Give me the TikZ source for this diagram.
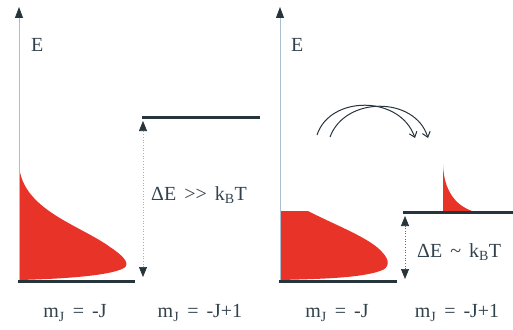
\documentclass[tikz,border=0pt]{standalone}
\usepackage{fontspec}
\setmainfont{Liberation Serif}
\definecolor{LevelDark}{RGB}{38,52,60}
\definecolor{PopRed}{RGB}{232,52,40}
\definecolor{AxisBlue}{RGB}{170,190,205}
\definecolor{TextGray}{RGB}{50,66,76}
\usetikzlibrary{arrows.meta, positioning, calc}
\newcommand{\lblfont}{\fontsize{20}{24}\selectfont\spaceskip=0.4em plus 0.1em\relax}

\tikzset{
  level/.style={draw=LevelDark, line width=3pt},
  energyaxis/.style={draw=AxisBlue, line width=0.8pt,
                     -{Triangle[length=11pt, width=8pt, color=LevelDark]}},
  gap/.style={dotted, line width=0.7pt,
              {Triangle[length=10pt, width=8pt, color=LevelDark]}-{Triangle[length=10pt, width=8pt, color=LevelDark]}},
  hop/.style={draw=LevelDark, line width=1pt, -{Straight Barb[length=5pt, width=8pt]}},
  lbl/.style={text=TextGray, inner sep=0pt, font=\lblfont},
  pop/.style={fill=PopRed, draw=none}
}

\begin{document}
\begin{tikzpicture}[x=1pt, y=-1pt]
  \useasboundingbox (0,0) rectangle (513,329);

  % left panel: large splitting
  \coordinate (axisL0) at (19,283);
  \coordinate (axisL1) at (19,7);
  \fill[pop] (19,165) .. controls (22,210) and (80,225) .. (110,247)
             .. controls (125,257) and (130,264) .. (124,268)
             .. controls (110,276) and (60,279) .. (19,280) -- cycle;
  \draw[energyaxis] (axisL0) -- (axisL1);
  \coordinate (lowL0) at (18,281);   \coordinate (lowL1) at (135,281);
  \coordinate (upL0)  at (142,117);  \coordinate (upL1)  at (260,117);
  \draw[level] (lowL0) -- (lowL1);
  \draw[level] (upL0) -- (upL1);
  \coordinate (gapL0) at (143,121);  \coordinate (gapL1) at (143,277);
  \draw[gap, draw=PopRed!55] (gapL1) -- (gapL0);
  \node[lbl, anchor=west] (eL) at (31,45) {E};
  \node[lbl, anchor=west] (dEL) at (151,195) {ΔE >{}> k\textsubscript{B}T};
  \node[lbl] (mL0) at (75,313) {m\textsubscript{J} = -J};
  \node[lbl] (mL1) at (200,313) {m\textsubscript{J} = -J+1};

  % right panel: small splitting
  \coordinate (axisR0) at (280,283);
  \coordinate (axisR1) at (280,7);
  \fill[pop] (280,211) -- (308,211) .. controls (335,225) and (370,238) .. (382,252)
             .. controls (390,260) and (390,268) .. (380,271)
             .. controls (360,278) and (320,279) .. (280,280) -- cycle;
  \fill[pop] (443,165) .. controls (444,190) and (455,205) .. (472,211)
             -- (443,211) -- cycle;
  \draw[energyaxis] (axisR0) -- (axisR1);
  \coordinate (lowR0) at (279,281);  \coordinate (lowR1) at (397,281);
  \coordinate (upR0)  at (403,212);  \coordinate (upR1)  at (513,212);
  \draw[level] (lowR0) -- (lowR1);
  \draw[level] (upR0) -- (upR1);
  \coordinate (gapR0) at (405,216);  \coordinate (gapR1) at (405,279);
  \draw[gap, draw=cyan!60!blue] (gapR1) -- (gapR0);
  \node[lbl, anchor=west] (eR) at (291,45) {E};
  \node[lbl, anchor=west] (dER) at (417,252) {ΔE \char`~\ k\textsubscript{B}T};
  \node[lbl] (mR0) at (337,313) {m\textsubscript{J} = -J};
  \node[lbl] (mR1) at (457,313) {m\textsubscript{J} = -J+1};

  % thermal hopping
  \coordinate (hopA0) at (317,135);  \coordinate (hopA1) at (415,138);
  \coordinate (hopB0) at (330,137);  \coordinate (hopB1) at (428,138);
  \draw[hop] (hopA0) .. controls (330,95) and (400,95) .. (hopA1);
  \draw[hop] (hopB0) .. controls (345,96) and (415,96) .. (hopB1);
\end{tikzpicture}
\end{document}
